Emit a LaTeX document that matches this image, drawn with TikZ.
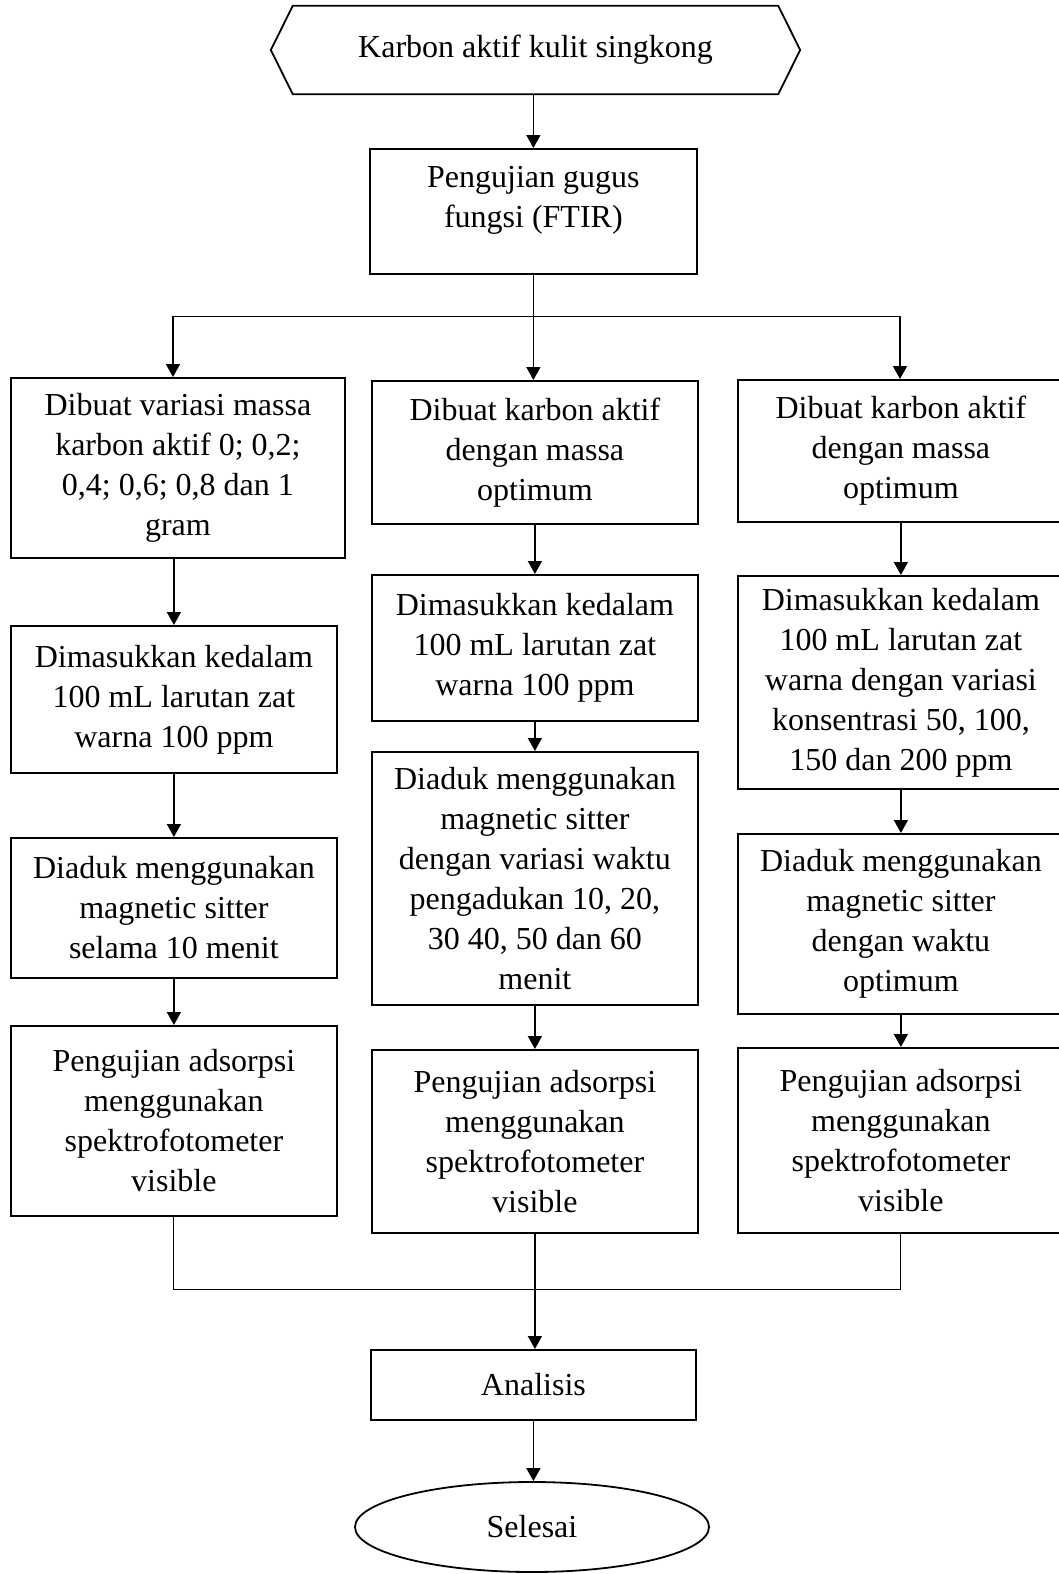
\documentclass[tikz,border=0pt]{standalone}
\usepackage{fontspec}
\setmainfont{Liberation Serif}
\usepackage{tikz}
\usetikzlibrary{arrows.meta,shapes.geometric}

\begin{document}
\begin{tikzpicture}[x=1pt,y=-1pt,font=\fontsize{32}{40}\selectfont,
  box/.style={draw,line width=1.8pt,align=center,inner sep=0pt,anchor=north west},
  arr/.style={line width=1.5pt,-{Triangle[length=13pt,width=14pt]}},
  branch/.style={line width=1pt}]
\useasboundingbox (0,0) rectangle (1059,1574);
\clip (0,0) rectangle (1059,1574);

\node[minimum width=485pt,minimum height=88pt,inner sep=0pt] (start) at (535.5,50) {Karbon aktif kulit singkong};
\draw[line width=1.8pt] (start.north west) -- (start.north east) -- ([xshift=22pt]start.east)
  -- (start.south east) -- (start.south west) -- ([xshift=-22pt]start.west) -- cycle;

\node[box,minimum width=327pt,minimum height=125pt,text depth=29pt] (ftir) at (369,148) {Pengujian gugus\\fungsi (FTIR)};

\node[box,minimum width=334pt,minimum height=180pt] (mass) at (10,377) {Dibuat variasi massa\\karbon aktif 0; 0,2;\\0,4; 0,6; 0,8 dan 1\\gram};
\node[box,minimum width=326pt,minimum height=147pt] (dyeA) at (10,625) {Dimasukkan kedalam\\100 mL larutan zat\\warna 100 ppm};
\node[box,minimum width=326pt,minimum height=140pt] (stirA) at (10,837) {Diaduk menggunakan\\magnetic sitter\\selama 10 menit};
\node[box,minimum width=326pt,minimum height=190pt] (uvA) at (10,1025) {Pengujian adsorpsi\\menggunakan\\spektrofotometer\\visible};

\node[box,minimum width=326pt,minimum height=143pt] (massB) at (371,380) {Dibuat karbon aktif\\dengan massa\\optimum};
\node[box,minimum width=326pt,minimum height=146pt] (dyeB) at (371,574) {Dimasukkan kedalam\\100 mL larutan zat\\warna 100 ppm};
\node[box,minimum width=326pt,minimum height=253pt] (stirB) at (371,751) {Diaduk menggunakan\\magnetic sitter\\dengan variasi waktu\\pengadukan 10, 20,\\30 40, 50 dan 60\\menit};
\node[box,minimum width=326pt,minimum height=183pt] (uvB) at (371,1049) {Pengujian adsorpsi\\menggunakan\\spektrofotometer\\visible};

\node[box,minimum width=326pt,minimum height=142pt] (massC) at (737,379) {Dibuat karbon aktif\\dengan massa\\optimum};
\node[box,minimum width=326pt,minimum height=213pt] (dyeC) at (737,575) {Dimasukkan kedalam\\100 mL larutan zat\\warna dengan variasi\\konsentrasi 50, 100,\\150 dan 200 ppm};
\node[box,minimum width=326pt,minimum height=180pt] (stirC) at (737,833) {Diaduk menggunakan\\magnetic sitter\\dengan waktu\\optimum};
\node[box,minimum width=326pt,minimum height=185pt] (uvC) at (737,1047) {Pengujian adsorpsi\\menggunakan\\spektrofotometer\\visible};

\node[box,minimum width=325pt,minimum height=70pt] (ana) at (370,1349) {Analisis};
\node[draw,ellipse,line width=1.8pt,minimum width=354pt,minimum height=90pt,inner sep=0pt] (finish) at (532,1527) {Selesai};

\coordinate (splitL) at (173,316);
\coordinate (splitR) at (900,316);
\coordinate (join) at (532,1289);

\draw[arr] (start.south -| ftir.north) -- (ftir.north);
\draw[branch] (splitL) -- (splitR);
\draw[arr] (ftir.south) -- (ftir.south |- massB.north);
\draw[arr] (splitL) -- (splitL |- mass.north);
\draw[arr] (splitR) -- (splitR |- massC.north);
\foreach \a/\b in {mass/dyeA,dyeA/stirA,stirA/uvA,massB/dyeB,dyeB/stirB,stirB/uvB,massC/dyeC,dyeC/stirC,stirC/uvC}
  \draw[arr] (\a.south -| \b.north) -- (\b.north);
\draw[branch] (uvA.south) |- (join) -| (uvC.south);
\draw[arr] (uvB.south) -- (uvB.south |- ana.north);
\draw[arr] (ana.south) -- (ana.south |- finish.north);
\end{tikzpicture}
\end{document}
